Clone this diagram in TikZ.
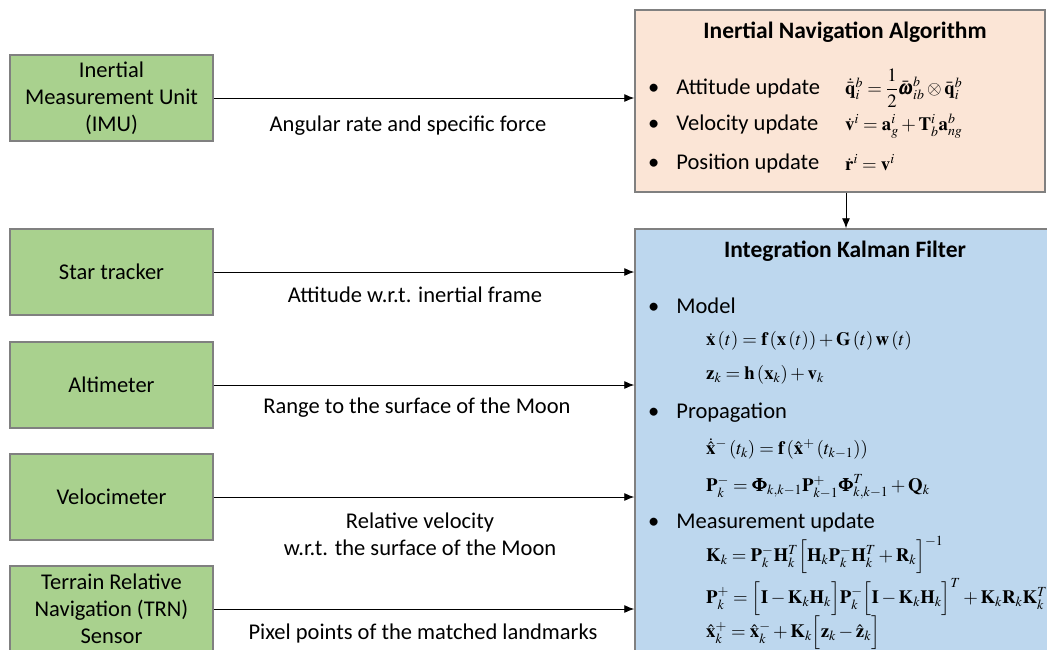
\documentclass[tikz,border=0pt]{standalone}
\usepackage{amsmath}
\usepackage{mathptmx}
\usepackage{bm}
\usepackage[no-math]{fontspec}
\setmainfont{Carlito}
\usetikzlibrary{arrows.meta}
\definecolor{sgreen}{RGB}{169,209,142}
\definecolor{speach}{RGB}{251,229,214}
\definecolor{sblue}{RGB}{189,215,238}
\definecolor{sborder}{RGB}{128,128,128}
\tikzset{
  sensor/.style={draw=sborder, line width=1.5pt, fill=sgreen, minimum width=203pt, minimum height=86pt, align=center, font=\fontsize{22.5}{27}\selectfont, inner sep=0pt},
  bigbox/.style={draw=sborder, line width=1.5pt, inner sep=0pt},
  arr/.style={-{Latex[length=10pt,width=8pt]}, line width=0.9pt},
  lbl/.style={font=\fontsize{22.5}{27}\selectfont, align=center, inner sep=0pt},
  ttl/.style={font=\fontsize{23.5}{27}\selectfont\bfseries, inner sep=0pt},
  item/.style={font=\fontsize{22.5}{27}\selectfont, anchor=west, inner sep=0pt},
  eq/.style={font=\fontsize{18.8}{22}\selectfont, anchor=west, inner sep=0pt}
}
\begin{document}
\begin{tikzpicture}[x=1pt,y=-1pt]
\useasboundingbox (0,0) rectangle (1047,649);
\clip (0,0) rectangle (1047,649);
% big boxes
\node[bigbox, fill=speach, minimum width=410pt, minimum height=182pt] (ins) at (840,101) {};
\node[bigbox, fill=sblue, minimum width=420pt, minimum height=440pt] (kf) at (845,449) {};
% sensors
\node[sensor] (imu) at (111.5,98) {Inertial\\Measurement Unit\\(IMU)};
\node[sensor] (star) at (111.5,272) {Star tracker};
\node[sensor] (alt) at (111.5,385) {Altimeter};
\node[sensor] (vel) at (111.5,497) {Velocimeter};
\node[sensor] (trn) at (111.5,609) {Terrain Relative\\Navigation (TRN)\\Sensor};
% arrows
\draw[arr] (imu.east) -- (imu.east -| ins.west);
\draw[arr] (star.east) -- (star.east -| kf.west);
\draw[arr] (alt.east) -- (alt.east -| kf.west);
\draw[arr] (vel.east) -- (vel.east -| kf.west);
\draw[arr] (trn.east) -- (trn.east -| kf.west);
\draw[arr] ([xshift=6pt]ins.south) -- ([xshift=6pt]ins.south |- kf.north);
% labels
\node[lbl] (l1) at (408,126) {Angular rate and specific force};
\node[lbl] (l2) at (415,295) {Attitude w.r.t. inertial frame};
\node[lbl] (l3) at (417,408) {Range to the surface of the Moon};
\node[lbl] (l4) at (420,534.5) {Relative velocity\\w.r.t. the surface of the Moon};
\node[lbl] (l5) at (423,633) {Pixel points of the matched landmarks};
% INS content
\node[ttl] (inst) at (845,32) {Inertial Navigation Algorithm};
\node[item] (b1) at (648,88) {•\hspace{17pt}Attitude update};
\node[item] (b2) at (648,124) {•\hspace{17pt}Velocity update};
\node[item] (b3) at (648,163) {•\hspace{17pt}Position update};
\node[eq] (e1) at (845,88) {$\dot{\bar{\mathbf q}}_i^b=\dfrac{1}{2}\bar{\bm\omega}_{ib}^b\otimes\bar{\mathbf q}_i^b$};
\node[eq] (e2) at (845,126) {$\dot{\mathbf v}^i=\mathbf a_g^i+\mathbf T_b^i\mathbf a_{ng}^b$};
\node[eq] (e3) at (845,163) {$\dot{\mathbf r}^i=\mathbf v^i$};
% KF content
\node[ttl] (kft) at (845,251) {Integration Kalman Filter};
\node[item] (k1) at (648,306) {•\hspace{17pt}Model};
\node[eq] (k1a) at (706,341) {$\dot{\mathbf x}\left(t\right)=\mathbf f\left(\mathbf x\left(t\right)\right)+\mathbf G\left(t\right)\mathbf w\left(t\right)$};
\node[eq] (k1b) at (706,375) {$\mathbf z_k=\mathbf h\left(\mathbf x_k\right)+\mathbf v_k$};
\node[item] (k2) at (648,413) {•\hspace{17pt}Propagation};
\node[eq] (k2a) at (706,449) {$\dot{\hat{\mathbf x}}^-\left(t_k\right)=\mathbf f\left(\hat{\mathbf x}^+\left(t_{k-1}\right)\right)$};
\node[eq] (k2b) at (706,487) {$\mathbf P_k^-=\bm\Phi_{k,k-1}\mathbf P_{k-1}^+\bm\Phi_{k,k-1}^T+\mathbf Q_k$};
\node[item] (k3) at (648,522) {•\hspace{17pt}Measurement update};
\node[eq] (k3a) at (706,555) {$\mathbf K_k=\mathbf P_k^-\mathbf H_k^T\Bigl[\mathbf H_k\mathbf P_k^-\mathbf H_k^T+\mathbf R_k\Bigr]^{-1}$};
\node[eq] (k3b) at (706,597) {$\mathbf P_k^+=\Bigl[\mathbf I-\mathbf K_k\mathbf H_k\Bigr]\mathbf P_k^-\Bigl[\mathbf I-\mathbf K_k\mathbf H_k\Bigr]^T+\mathbf K_k\mathbf R_k\mathbf K_k^T$};
\node[eq] (k3c) at (706,633) {$\hat{\mathbf x}_k^+=\hat{\mathbf x}_k^-+\mathbf K_k\Bigl[\mathbf z_k-\hat{\mathbf z}_k\Bigr]$};
\end{tikzpicture}
\end{document}
